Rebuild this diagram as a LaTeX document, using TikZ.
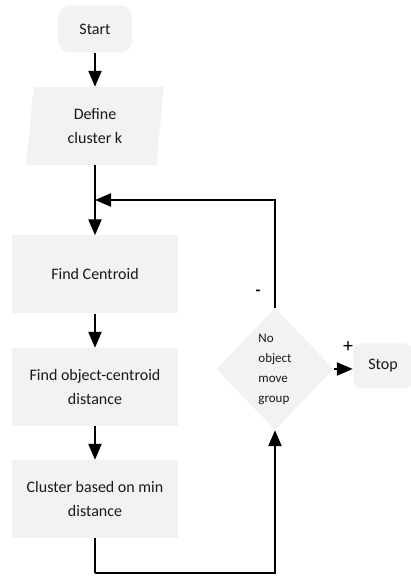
\documentclass[tikz,border=0pt]{standalone}
\usepackage{fontspec}
\setmainfont{Carlito}
\usetikzlibrary{shapes.geometric, arrows.meta, positioning}
\definecolor{boxgray}{RGB}{242,242,242}

\begin{document}
\begin{tikzpicture}[x=1pt, y=1pt,
block/.style={rectangle, fill=boxgray, text=black!90, align=center,
    font=\fontsize{16}{24}\selectfont, minimum width=166pt, minimum height=78pt,
    inner sep=2pt},
block-start/.style={block, rounded corners=12pt, minimum width=74pt, minimum height=47pt},
block-input/.style={block, trapezium, trapezium left angle=79, trapezium right angle=101,
    trapezium stretches body, minimum width=138pt, minimum height=78pt},
block-stop/.style={block, rounded corners=8pt, minimum width=60pt, minimum height=45pt},
decision/.style={diamond, fill=boxgray, text=black!90, align=left,
    font=\fontsize{13}{20}\selectfont, minimum width=117pt, minimum height=122pt,
    inner sep=0pt},
line/.style={draw, line width=2.2pt},
arrow/.style={line, -{Triangle[length=16pt, width=13pt]}}
]
\useasboundingbox (0,0) rectangle (411,576);

\node [block-start] (start) at (95,547) {Start};
\node [block-input, below of=start, node distance=97pt] (define) {Define\\cluster k};
\node [block, below of=define, node distance=148.5pt] (centroid) {Find Centroid};
\node [block, below of=centroid, node distance=112.5pt] (distance) {Find object-centroid\\distance};
\node [block, below of=distance, node distance=112pt] (cluster) {Cluster based on min\\distance};
\node [decision] (moved) at (275,207) {No\\object\\move\\group};
\node [block-stop] (stop) at (383,210) {Stop};

\coordinate (join) at (95,376);
\coordinate (bottom) at (95,3);

\draw [arrow] (start) -- (define);
\draw [line] (define) -- (join);
\draw [arrow] (join) -- (centroid);
\draw [arrow] (centroid) -- (distance);
\draw [arrow] (distance) -- (cluster);
\draw [line] (cluster) -- (bottom);
\draw [arrow] (bottom) -| (moved.south);
\draw [arrow] (moved.north) |- (join);
\draw [arrow] (moved.east) -- (stop.west |- moved.east);

\node [font=\fontsize{16}{16}\selectfont\bfseries] (minus) at (258,283) {-};
\node [font=\fontsize{20}{20}\selectfont] (plus) at (348,229) {+};
\end{tikzpicture}
\end{document}
